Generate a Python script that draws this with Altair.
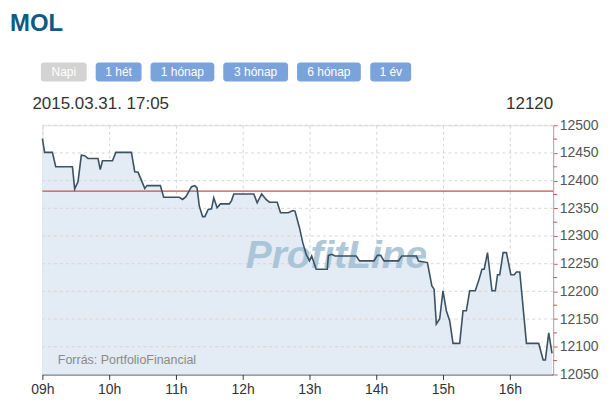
import altair as alt
import pandas as pd

# ---- data ----
times = ["09:00","09:02","09:09","09:12","09:27","09:29","09:32","09:35","09:38","09:41",
         "09:50","09:52","09:54","10:03","10:06","10:20","10:23","10:26","10:32","10:34",
         "10:46","10:49","11:03","11:06","11:09","11:14","11:17","11:19","11:21","11:24",
         "11:26","11:29","11:32","11:34","11:37","11:40","11:48","11:50","11:52","12:10",
         "12:13","12:17","12:21","12:24","12:31","12:34","12:41","12:45","12:47","12:51",
         "12:54","12:57","13:00","13:02","13:06","13:16","13:17","13:20","13:23","13:42",
         "13:45","13:58","14:01","14:04","14:07","14:20","14:23","14:36","14:38","14:46",
         "14:50","14:52","14:54","14:57","15:00","15:03","15:06","15:09","15:15","15:18",
         "15:21","15:24","15:29","15:32","15:35","15:37","15:40","15:44","15:47","15:49",
         "15:51","15:54","15:57","16:01","16:04","16:06","16:09","16:15","16:26","16:30",
         "16:32","16:35","16:38"]
prices = [12476,12451,12451,12425,12425,12385,12398,12446,12445,12440,
          12440,12420,12436,12436,12451,12451,12416,12415,12386,12391,
          12391,12370,12370,12366,12371,12389,12391,12387,12354,12335,
          12335,12348,12349,12369,12351,12358,12358,12364,12376,12376,
          12360,12376,12366,12361,12361,12342,12342,12346,12345,12315,
          12288,12267,12255,12264,12240,12240,12265,12267,12264,12264,
          12255,12255,12265,12265,12255,12255,12264,12264,12255,12252,
          12210,12204,12141,12150,12201,12165,12147,12106,12106,12165,
          12165,12201,12201,12219,12240,12240,12270,12201,12201,12230,
          12230,12270,12270,12230,12230,12235,12235,12106,12106,12076,
          12076,12125,12088]
prev_close = 12381
y_ticks = [12050,12100,12150,12200,12250,12300,12350,12400,12450,12500]
y_minor = [12075 + 50*i for i in range(9)]
hours = [9,10,11,12,13,14,15,16]
title_text = "MOL"
date_text = "2015.03.31. 17:05"
last_text = "12120"
buttons = ["Napi","1 hét","1 hónap","3 hónap","6 hónap","1 év"]
watermark = "ProfitLine"
source_text = "Forrás: PortfolioFinancial"

DAY = "2015-03-31"
df = pd.DataFrame({"t": [f"{DAY}T{t}:00" for t in times], "p": prices})
grid_df = pd.DataFrame({"p": y_ticks[1:]})
minor_df = pd.DataFrame({"p": y_minor})
ref_df = pd.DataFrame({"p": [prev_close]})
FONT = "Liberation Sans"
W, H = 512.5, 250

x_scale = alt.Scale(domain=[alt.DateTime(year=2015, month=3, date=31, hours=9, minutes=0),
                            alt.DateTime(year=2015, month=3, date=31, hours=16, minutes=39)])
y_scale = alt.Scale(domain=[12050, 12500], zero=False, nice=False)

x_enc = alt.X("t:T", scale=x_scale, title=None,
              axis=alt.Axis(values=[alt.DateTime(year=2015, month=3, date=31, hours=h) for h in hours],
                            format="%Hh", grid=True, gridDash=[3, 3], gridColor="#d6d6d6",
                            domainColor="#333", tickColor="#333", tickSize=5,
                            labelFont=FONT, labelFontSize=14, labelColor="#333",
                            labelPadding=3, labelFlush=False, labelOverlap=False))
y_axis = alt.Axis(orient="right", values=y_ticks, grid=False,
                  format="d", tickColor="#cc5555", tickSize=4,
                  domainColor="#aaa", labelFont=FONT, labelFontSize=14,
                  labelColor="#555", labelPadding=2, labelOverlap=False,
                  labelFlush=False)
y_enc = alt.Y("p:Q", scale=y_scale, title=None, axis=y_axis)

base = alt.Chart(df)
area = base.mark_area(color="#e3ebf4", opacity=1).encode(
    x=x_enc, y=y_enc, y2=alt.datum(12050))
grid = alt.Chart(grid_df).mark_rule(color="#d6d6d6", strokeDash=[3, 3], strokeWidth=1).encode(
    y=y_enc)
minor = alt.Chart(minor_df).mark_rule(color="#cc5555", strokeWidth=1).encode(
    y=y_enc, x=alt.value(W), x2=alt.value(W + 4))
wm = alt.Chart(pd.DataFrame({"s": [watermark]})).mark_text(
    font=FONT, fontSize=39, fontWeight="bold", fontStyle="italic", color="#a6c1d5",
    opacity=0.9, align="center", baseline="alphabetic").encode(
    text="s:N", x=alt.value(295), y=alt.value(143))
ref = alt.Chart(ref_df).mark_rule(color="#cc4b4b", strokeWidth=1.2).encode(y=y_enc)
line = base.mark_line(color="#3b5263", strokeWidth=1.6).encode(x=x_enc, y=y_enc)

layers = [area, grid, wm, ref, line, minor]

def txt(s, x, y, size, color, align="left", weight="normal", baseline="alphabetic"):
    return alt.Chart(pd.DataFrame({"s": [s]})).mark_text(
        font=FONT, fontSize=size, color=color, align=align, fontWeight=weight,
        baseline=baseline).encode(text="s:N", x=alt.value(x), y=alt.value(y))

ox, oy = 42.5, 125
layers.append(txt(title_text, 10 - ox, 30 - oy, 24, "#0d5a87", weight="bold"))
layers.append(txt(date_text, 32.5 - ox, 109 - oy, 17, "#333"))
layers.append(txt(last_text, 555 - ox, 109 - oy, 17, "#333", align="right"))
layers.append(txt(source_text, 58 - ox, 365 - oy, 12.5, "#8a8a8a"))

btn_x = [(41, 87), (96, 142), (151, 215), (224, 289), (298, 362), (371.5, 412.5)]
for i, (b, (x0, x1)) in enumerate(zip(buttons, btn_x)):
    col = "#d3d3d3" if i == 0 else "#7aa3dc"
    rect = alt.Chart(pd.DataFrame({"s": [b]})).mark_rect(color=col, cornerRadius=3).encode(
        x=alt.value(x0 - ox), x2=alt.value(x1 - ox), y=alt.value(62 - oy), y2=alt.value(81 - oy))
    layers.append(rect)
    layers.append(txt(b, (x0 + x1) / 2 - ox, 72 - oy, 12, "#ffffff", align="center", baseline="middle"))

chart = alt.layer(*layers).properties(
    width=W, height=H,
    autosize=alt.AutoSizeParams(type="none"),
    padding={"left": ox - 8, "top": oy - 8, "right": 50, "bottom": 26},
).configure_view(stroke=None).configure(background="white")

chart.save("out.html", embed_options={"renderer": "svg", "actions": False})
